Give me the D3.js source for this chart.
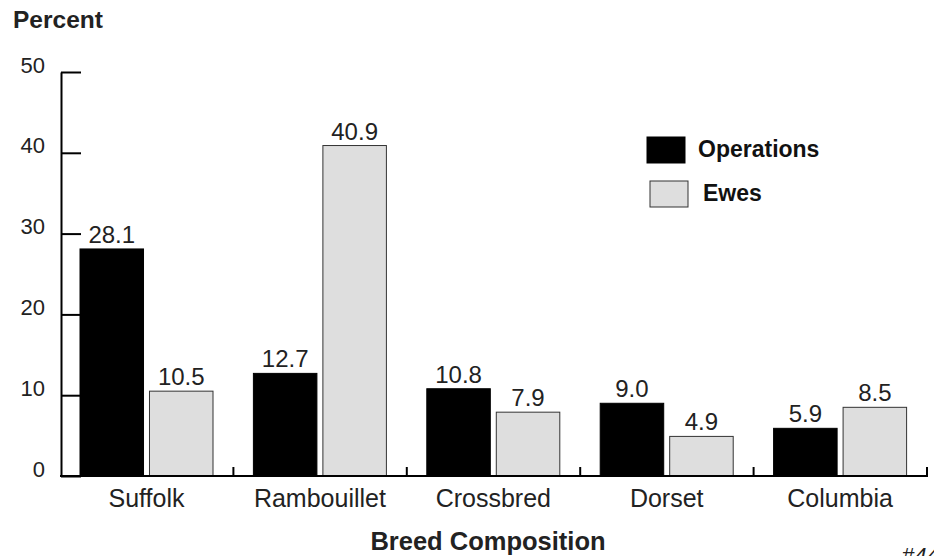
<!DOCTYPE html>
<html>
<head>
<meta charset="utf-8">
<script src="https://cdn.jsdelivr.net/npm/d3@7"></script>
<style>
  body { margin: 0; background: #fff; }
  svg { font-family: "Liberation Sans", Arial, Helvetica, sans-serif; }
</style>
</head>
<body>
<div id="vis"></div>
<script>

var breeds = ['Suffolk', 'Rambouillet', 'Crossbred', 'Dorset', 'Columbia'];
var series = ['Operations', 'Ewes'];
var operations = [28.1, 12.7, 10.8, 9.0, 5.9];
var ewes = [10.5, 40.9, 7.9, 4.9, 8.5];
var yTicks = [0, 10, 20, 30, 40, 50];

var width = 934;
var height = 556;

var fillColor = d3.scaleOrdinal()
    .domain(series)
    .range(['#000000', '#dedede']);

var rows = breeds.map(function (b, i) {
    return { breed: b, values: [
        { key: 'Operations', value: operations[i] },
        { key: 'Ewes', value: ewes[i] }
    ] };
});

var svg = d3.select('#vis')
    .append('svg')
    .attr('width', width)
    .attr('height', height);

var x = d3.scaleBand()
    .domain(breeds)
    .range([60, 927])
    .paddingInner(0)
    .paddingOuter(0);

// bars sit between 20 and 153 px inside each band
var xSub = d3.scaleBand()
    .domain(series)
    .range([20, 153])
    .paddingInner(0.086);

var y = d3.scaleLinear()
    .domain([0, 50])
    .range([476, 72]);

// bars
var groups = svg.selectAll('.group')
    .data(rows)
    .enter().append('g')
    .attr('class', 'group')
    .attr('transform', function (d) { return 'translate(' + x(d.breed) + ',0)'; });

groups.selectAll('rect')
    .data(function (d) { return d.values; })
    .enter().append('rect')
    .attr('x', function (d) { return xSub(d.key); })
    .attr('y', function (d) { return y(d.value); })
    .attr('width', xSub.bandwidth())
    .attr('height', function (d) { return y(0) - y(d.value); })
    .attr('fill', function (d) { return fillColor(d.key); })
    .attr('stroke', function (d) { return d.key === 'Ewes' ? '#333' : '#000'; })
    .attr('stroke-width', 1);

groups.selectAll('.val')
    .data(function (d) { return d.values; })
    .enter().append('text')
    .attr('class', 'val')
    .attr('x', function (d) { return xSub(d.key) + xSub.bandwidth() / 2; })
    .attr('y', function (d) { return y(d.value) - 6; })
    .attr('text-anchor', 'middle')
    .attr('font-size', 24)
    .attr('fill', '#222')
    .text(function (d) { return d.value.toFixed(1); });

// y axis, ticks pointing inwards
var yAxis = svg.append('g')
    .attr('transform', 'translate(61,0)')
    .call(d3.axisLeft(y).tickValues(yTicks).tickSize(-20).tickPadding(16).tickSizeOuter(0));

yAxis.select('.domain').attr('stroke-width', 2);
yAxis.selectAll('.tick line').attr('stroke-width', 2);
yAxis.selectAll('.tick text')
    .attr('dy', '0em')
    .attr('font-size', 22)
    .attr('font-family', '"Liberation Sans", Arial, sans-serif')
    .attr('fill', '#222');

// x axis line with small upward ticks at band edges
svg.append('line')
    .attr('x1', 60).attr('x2', 928)
    .attr('y1', y(0)).attr('y2', y(0))
    .attr('stroke', '#000')
    .attr('stroke-width', 2);

svg.selectAll('.xtick')
    .data(breeds)
    .enter().append('line')
    .attr('class', 'xtick')
    .attr('x1', function (d) { return x(d) + x.step(); })
    .attr('x2', function (d) { return x(d) + x.step(); })
    .attr('y1', y(0))
    .attr('y2', y(0) - 9)
    .attr('stroke', '#000')
    .attr('stroke-width', 2);

svg.selectAll('.cat')
    .data(breeds)
    .enter().append('text')
    .attr('class', 'cat')
    .attr('x', function (d) { return x(d) + 86.5; })
    .attr('y', 507)
    .attr('text-anchor', 'middle')
    .attr('font-size', 25)
    .attr('fill', '#222')
    .text(function (d) { return d; });

// titles
svg.append('text')
    .attr('x', 13).attr('y', 28)
    .attr('font-size', 24.5)
    .attr('font-weight', 'bold')
    .attr('fill', '#222')
    .text('Percent');

svg.append('text')
    .attr('x', 488).attr('y', 550)
    .attr('text-anchor', 'middle')
    .attr('font-size', 25.5)
    .attr('font-weight', 'bold')
    .attr('fill', '#222')
    .text('Breed Composition');

// chart number, cut by the bottom edge as in the original
svg.append('text')
    .attr('x', 902).attr('y', 563)
    .attr('font-size', 22)
    .attr('font-style', 'italic')
    .attr('fill', '#222')
    .text('#44');

// legend
var legendPos = [
    { key: 'Operations', bx: 647, by: 137, tx: 698, ty: 157 },
    { key: 'Ewes', bx: 650, by: 181, tx: 703, ty: 201 }
];

var legend = svg.selectAll('.legend')
    .data(legendPos)
    .enter().append('g')
    .attr('class', 'legend');

legend.append('rect')
    .attr('x', function (d) { return d.bx; })
    .attr('y', function (d) { return d.by; })
    .attr('width', 38)
    .attr('height', 26)
    .attr('fill', function (d) { return fillColor(d.key); })
    .attr('stroke', function (d) { return d.key === 'Ewes' ? '#333' : '#000'; })
    .attr('stroke-width', 1);

legend.append('text')
    .attr('x', function (d) { return d.tx; })
    .attr('y', function (d) { return d.ty; })
    .attr('font-size', 23)
    .attr('font-weight', 'bold')
    .attr('fill', '#111')
    .text(function (d) { return d.key; });

</script>
</body>
</html>
